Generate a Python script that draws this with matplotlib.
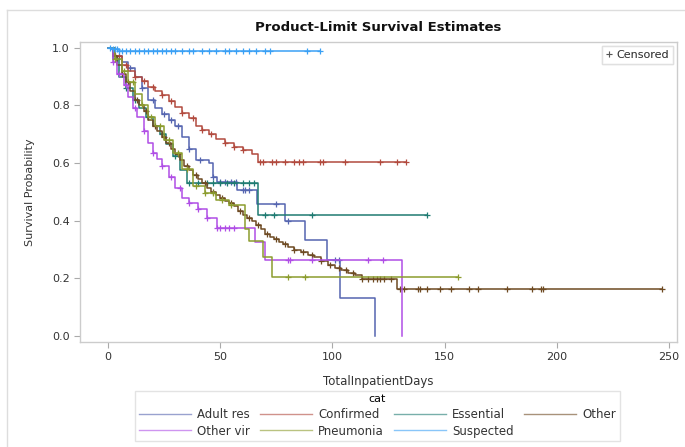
import numpy as np
import matplotlib
matplotlib.use("Agg")
import matplotlib.pyplot as plt
from matplotlib.lines import Line2D

plt.rcParams["font.family"] = ["DejaVu Sans"]

# step curves: event times, survival after each event, censor times
adult_t = [0, 3, 6, 9, 12, 15, 18, 21, 24, 27, 30, 33, 36, 39, 45, 47, 48.5, 57.5, 66.4, 79, 87.8, 97.5, 103.4, 119]
adult_s = [1.0, 0.97, 0.95, 0.93, 0.90, 0.86, 0.82, 0.79, 0.77, 0.75, 0.73, 0.69, 0.65, 0.61, 0.60, 0.55, 0.535, 0.505, 0.458, 0.40, 0.333, 0.264, 0.132, 0.0]
adult_c = [10, 15, 20, 25, 28, 31, 36, 41, 47, 50, 52, 55, 57, 60, 61, 63, 75, 80, 101, 103]

conf_t = [0, 3, 6, 9, 12, 15, 18, 21, 24, 27, 30, 33, 36, 39, 42, 45, 48, 52, 56, 60, 64, 67]
conf_s = [1.0, 0.97, 0.94, 0.92, 0.90, 0.885, 0.865, 0.85, 0.835, 0.815, 0.795, 0.775, 0.755, 0.73, 0.715, 0.70, 0.685, 0.67, 0.655, 0.645, 0.63, 0.605]
conf_c = [3, 5, 8, 12, 16, 20, 24, 28, 33, 38, 42, 46, 52, 56, 60, 67.7, 69, 73, 75, 79, 83, 85, 87, 94.5, 96, 105.6, 121, 129, 133]

ess_t = [0, 2, 5, 8, 11, 14, 17, 20, 23, 26, 29, 32, 35, 67]
ess_s = [1.0, 0.96, 0.90, 0.86, 0.82, 0.79, 0.76, 0.73, 0.70, 0.665, 0.625, 0.575, 0.53, 0.42]
ess_c = [4, 8, 12, 18, 24, 30, 36, 40, 44, 47, 50, 53, 56, 60, 63, 65, 70, 74, 91, 142]

other_t = [0, 2, 4, 6, 8, 10, 12, 14, 16, 18, 20, 22, 24, 26, 28, 30, 32, 34, 36, 38, 40, 42, 44, 46, 48, 50,
           52, 54, 56, 58, 60, 62, 64, 66, 68, 70, 72, 74, 76, 78, 80, 83, 86, 89, 92, 95, 98, 101, 104, 107, 110, 113, 129]
other_s = [1.0, 0.97, 0.94, 0.91, 0.88, 0.85, 0.82, 0.80, 0.78, 0.75, 0.73, 0.71, 0.69, 0.67, 0.65, 0.63, 0.61, 0.59,
           0.575, 0.56, 0.545, 0.53, 0.515, 0.50, 0.49, 0.48, 0.47, 0.46, 0.45, 0.435, 0.42, 0.41, 0.40, 0.385, 0.37,
           0.355, 0.345, 0.335, 0.325, 0.318, 0.31, 0.30, 0.29, 0.28, 0.275, 0.26, 0.245, 0.235, 0.228, 0.22, 0.21, 0.197, 0.163]
other_c = [3, 6, 9, 13, 17, 21, 25, 27, 31, 35, 39, 43, 47, 51, 55, 59, 63, 67, 71, 75, 79, 83, 87, 91, 95, 99, 103,
           106, 109, 113, 116, 118, 120, 121, 123, 126, 130, 132, 138, 139, 142, 148, 153, 161, 165, 178, 189, 193, 194, 247]

ovir_t = [0, 2, 4, 7, 9, 11, 13, 16, 18, 20, 22, 24, 27, 30, 33, 36, 40, 44, 48.5, 65.5, 70, 131]
ovir_s = [1.0, 0.95, 0.91, 0.87, 0.83, 0.79, 0.76, 0.71, 0.67, 0.635, 0.615, 0.59, 0.55, 0.515, 0.48, 0.46, 0.44, 0.41, 0.375, 0.326, 0.264, 0.0]
ovir_c = [2, 5, 8, 12, 16, 20, 24, 28, 32, 36, 40, 44, 48.5, 50, 52, 54, 56, 80, 81, 91, 116, 122.6]

pneu_t = [0, 3, 6, 9, 12, 15, 18, 21, 25, 29, 33, 38, 43, 48, 54, 61, 63, 69, 73]
pneu_s = [1.0, 0.96, 0.92, 0.88, 0.84, 0.80, 0.76, 0.73, 0.68, 0.635, 0.58, 0.52, 0.495, 0.472, 0.455, 0.37, 0.33, 0.274, 0.205]
pneu_c = [3, 7, 11, 15, 19, 23, 27, 31, 35, 39, 43, 47, 51, 55, 80, 88, 156]

susp_t = [0, 2, 5]
susp_s = [1.0, 0.995, 0.99]
susp_c = [1, 2, 3, 4, 5, 6, 8, 10, 12, 14, 16, 18, 20, 22, 24, 26, 28, 30, 33, 36, 38, 42, 45, 48, 52, 54, 57, 60,
          63, 66, 70, 72, 88.7, 94.5]

labels = ["Adult res", "Confirmed", "Essential", "Other", "Other vir", "Pneumonia", "Suspected"]
colors = ["#5565b0", "#b24a3e", "#1f7b72", "#6e4a22", "#b04ee6", "#8c9c2e", "#3aa0f5"]
series = [(adult_t, adult_s, adult_c), (conf_t, conf_s, conf_c), (ess_t, ess_s, ess_c),
          (other_t, other_s, other_c), (ovir_t, ovir_s, ovir_c), (pneu_t, pneu_s, pneu_c),
          (susp_t, susp_s, susp_c)]

fig = plt.figure(figsize=(6.85, 4.47), dpi=100)
ax = fig.add_axes([0.1168, 0.2349, 0.8715, 0.671])

for (t, s, c), col in zip(series, colors):
    t = np.array(t, dtype=float)
    s = np.array(s, dtype=float)
    c = np.array(c, dtype=float)
    end = max(t[-1], c.max())
    tt = np.append(t, end)
    ss = np.append(s, s[-1])
    ax.step(tt, ss, where="post", color=col, lw=1.1)
    # survival at each censor time
    idx = np.searchsorted(t, c, side="right") - 1
    ax.plot(c, s[idx], ls="none", marker="+", ms=5, mew=0.9, color=col)

ax.set_xlim(-12.5, 253.6)
ax.set_ylim(-0.021, 1.02)
ax.set_xticks([0, 50, 100, 150, 200, 250])
ax.set_yticks([0.0, 0.2, 0.4, 0.6, 0.8, 1.0])
ax.set_yticklabels(["0.0", "0.2", "0.4", "0.6", "0.8", "1.0"])
ax.tick_params(colors="#aaaaaa", labelcolor="#333333", labelsize=8, length=4, width=0.8)
for sp in ax.spines.values():
    sp.set_color("#cccccc")
    sp.set_linewidth(1.0)

ax.set_title("Product-Limit Survival Estimates", fontsize=9.5, fontweight="bold", pad=8, color="#111111")
ax.set_xlabel("TotalInpatientDays", fontsize=8.5, color="#333333", labelpad=9)
ax.set_ylabel("Survival Probability", fontsize=8, color="#333333", labelpad=12)

cens = Line2D([], [], ls="none", marker="+", ms=4, mew=0.8, color="#555555")
leg1 = ax.legend([cens], ["Censored"], loc="upper right", fontsize=8, frameon=True,
                 fancybox=False, edgecolor="#dddddd", handlelength=0.6, handletextpad=0.4,
                 borderpad=0.35, borderaxespad=0.35, labelcolor="#333333")
ax.add_artist(leg1)

# matplotlib fills columns first, so reorder to read row by row like the original
order = [0, 4, 1, 5, 2, 6, 3]
handles = [Line2D([], [], color=colors[i], lw=1.0, alpha=0.6) for i in order]
fig.legend(handles, [labels[i] for i in order], title="cat", loc="lower center",
           bbox_to_anchor=(0.551, 0.0), ncol=4, fontsize=8.5, title_fontsize=8,
           frameon=True, fancybox=False, edgecolor="#dddddd", handlelength=4.4,
           handletextpad=0.5, columnspacing=0.9, labelspacing=0.3, borderpad=0.3,
           labelcolor="#333333")

# outer box of the output frame
fig.add_artist(Line2D([7 / 685, 7 / 685], [0, 1 - 10 / 447], transform=fig.transFigure, color="#dddddd", lw=1))
fig.add_artist(Line2D([7 / 685, 1], [1 - 10 / 447, 1 - 10 / 447], transform=fig.transFigure, color="#dddddd", lw=1))

fig.savefig("out.png", dpi=100)
